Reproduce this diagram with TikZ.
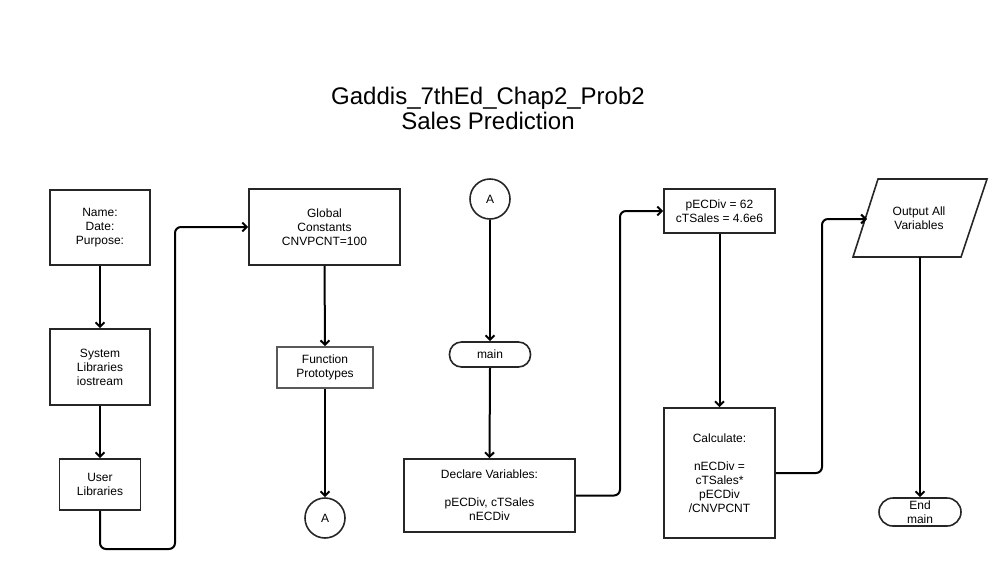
\documentclass[tikz,border=0pt]{standalone}
\usepackage{fontspec}
\setmainfont{Liberation Sans}
\usetikzlibrary{arrows.meta,positioning}
\begin{document}
\begin{tikzpicture}[x=1pt,y=-1pt,
  box/.style={draw=black!85, line width=1.6pt, fill=white, align=center, inner sep=0pt,
    font=\fontsize{12}{14}\selectfont},
  grbox/.style={box, draw=black!65},
  term/.style={box, rounded corners=12pt},
  conn/.style={circle, draw=black!85, line width=1.6pt, minimum size=40pt, inner sep=0pt,
    font=\fontsize{12}{14}\selectfont},
  arr/.style={draw=black, line width=2pt, -{Straight Barb[length=4.5pt,width=9pt]}},
  ttl/.style={align=center, font=\fontsize{24}{25}\selectfont}
]
\useasboundingbox (0,0) rectangle (995,574);

\node[ttl] (title) at (488,108) {Gaddis\_7thEd\_Chap2\_Prob2\\Sales Prediction};

\node[box, minimum width=100pt, minimum height=75pt] (name) at (100,227.5) {Name:\\Date:\\Purpose:};
\node[box, minimum width=100pt, minimum height=76pt] (sys) at (100,367) {System\\Libraries\\iostream};
\node[box, minimum width=81pt, minimum height=51pt] (user) at (100,484.5) {User\\Libraries};
\node[box, minimum width=151pt, minimum height=76pt] (glob) at (324.5,227) {Global\\Constants\\CNVPCNT=100};
\node[grbox, minimum width=96pt, minimum height=41pt] (proto) at (325,367.5) {Function\\Prototypes};
\node[conn] (a1) at (325,518) {A};

\node[conn] (a2) at (490,199) {A};
\node[term, minimum width=81pt, minimum height=25pt] (main) at (490,354.5) {main};
\node[box, minimum width=171pt, minimum height=73pt] (decl) at (489.5,495.5) {Declare Variables:\\[14pt]pECDiv, cTSales\\nECDiv};

\node[box, minimum width=111pt, minimum height=44pt] (pec) at (719.5,211) {pECDiv = 62\\cTSales = 4.6e6};
\node[box, minimum width=111pt, minimum height=130pt] (calc) at (719.5,473) {Calculate:\\[14pt]nECDiv =\\cTSales*\\pECDiv\\/CNVPCNT};

% parallelogram
\coordinate (ptl) at (878,179);
\coordinate (ptr) at (987,179);
\coordinate (pbr) at (961,257);
\coordinate (pbl) at (853,257);
\draw[draw=black!85, line width=1.6pt, fill=white] (ptl) -- (ptr) -- (pbr) -- (pbl) -- cycle;
\node[align=center, font=\fontsize{12}{14}\selectfont] (out) at (919,218) {Output All\\Variables};
\coordinate (outin) at (867,219);
\coordinate (outbot) at (920,257);

\node[term, minimum width=82pt, minimum height=28pt, rounded corners=14pt] (endm) at (920,512) {End\\main};

% connectors
\draw[arr] (name.south) -- (sys.north);
\draw[arr] (sys.south) -- (user.north);
\coordinate (b1) at (175,549);
\draw[arr, rounded corners=6pt] (user.south) |- (b1) |- (glob.west);
\draw[arr] (glob.south) -- (proto.north);
\draw[arr] (proto.south) -- (a1.north);

\draw[arr] (a2.south) -- (main.north);
\draw[arr] (main.south) -- (decl.north);
\coordinate (b2) at (620,495.5);
\draw[arr, rounded corners=6pt] (decl.east) -- (b2) |- (pec.west);
\draw[arr] (pec.south) -- (calc.north);
\coordinate (b3) at (822,473);
\draw[arr, rounded corners=6pt] (calc.east) -- (b3) |- (outin);
\draw[arr] (outbot) -- (endm.north);
\end{tikzpicture}
\end{document}
